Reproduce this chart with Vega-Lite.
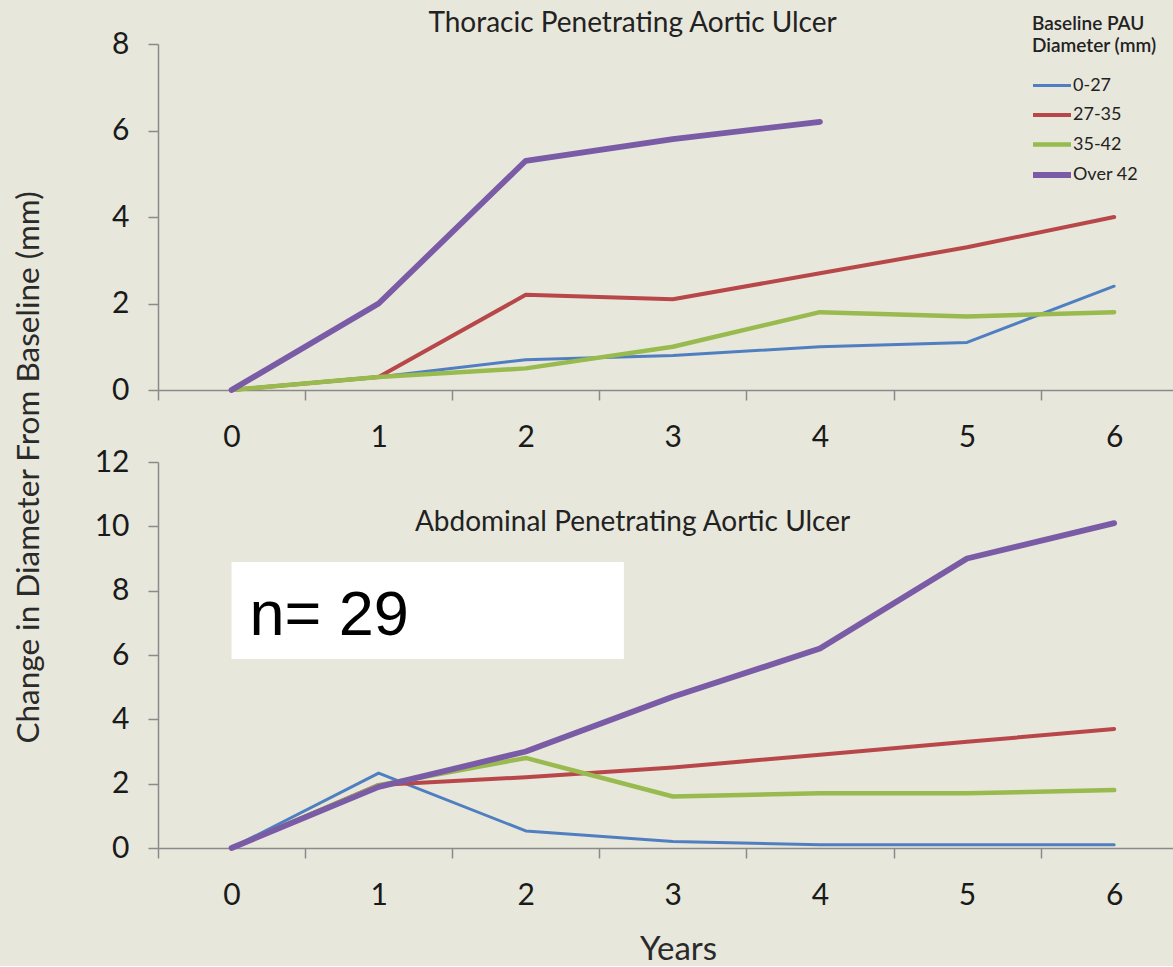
{
  "$schema": "https://vega.github.io/schema/vega-lite/v6.json",
  "background": "#E8E7DB",
  "padding": {"left": 13, "top": 10, "right": 0, "bottom": 0},
  "autosize": {"type": "pad"},
  "config": {
    "view": {"stroke": null},
    "font": "Lato",
    "axis": {"grid": false, "domainColor": "#8a8a8a", "tickColor": "#8a8a8a", "domainWidth": 1.5, "tickWidth": 1.5, "labelFont": "Lato", "labelColor": "#1a1a1a", "titleFont": "Lato", "titleColor": "#2a2a2a", "titleFontWeight": "normal"}
  },
  "datasets": {
    "lines": [
      {"panel": "Thoracic", "year": 0, "group": "0-27", "value": 0},
      {"panel": "Thoracic", "year": 1, "group": "0-27", "value": 0.3},
      {"panel": "Thoracic", "year": 2, "group": "0-27", "value": 0.7},
      {"panel": "Thoracic", "year": 3, "group": "0-27", "value": 0.8},
      {"panel": "Thoracic", "year": 4, "group": "0-27", "value": 1.0},
      {"panel": "Thoracic", "year": 5, "group": "0-27", "value": 1.1},
      {"panel": "Thoracic", "year": 6, "group": "0-27", "value": 2.4},
      {"panel": "Thoracic", "year": 0, "group": "27-35", "value": 0},
      {"panel": "Thoracic", "year": 1, "group": "27-35", "value": 0.3},
      {"panel": "Thoracic", "year": 2, "group": "27-35", "value": 2.2},
      {"panel": "Thoracic", "year": 3, "group": "27-35", "value": 2.1},
      {"panel": "Thoracic", "year": 4, "group": "27-35", "value": 2.7},
      {"panel": "Thoracic", "year": 5, "group": "27-35", "value": 3.3},
      {"panel": "Thoracic", "year": 6, "group": "27-35", "value": 4.0},
      {"panel": "Thoracic", "year": 0, "group": "35-42", "value": 0},
      {"panel": "Thoracic", "year": 1, "group": "35-42", "value": 0.3},
      {"panel": "Thoracic", "year": 2, "group": "35-42", "value": 0.5},
      {"panel": "Thoracic", "year": 3, "group": "35-42", "value": 1.0},
      {"panel": "Thoracic", "year": 4, "group": "35-42", "value": 1.8},
      {"panel": "Thoracic", "year": 5, "group": "35-42", "value": 1.7},
      {"panel": "Thoracic", "year": 6, "group": "35-42", "value": 1.8},
      {"panel": "Thoracic", "year": 0, "group": "Over 42", "value": 0},
      {"panel": "Thoracic", "year": 1, "group": "Over 42", "value": 2.0},
      {"panel": "Thoracic", "year": 2, "group": "Over 42", "value": 5.3},
      {"panel": "Thoracic", "year": 3, "group": "Over 42", "value": 5.8},
      {"panel": "Thoracic", "year": 4, "group": "Over 42", "value": 6.2},
      {"panel": "Abdominal", "year": 0, "group": "0-27", "value": 0},
      {"panel": "Abdominal", "year": 1, "group": "0-27", "value": 2.33},
      {"panel": "Abdominal", "year": 2, "group": "0-27", "value": 0.53},
      {"panel": "Abdominal", "year": 3, "group": "0-27", "value": 0.2},
      {"panel": "Abdominal", "year": 4, "group": "0-27", "value": 0.1},
      {"panel": "Abdominal", "year": 5, "group": "0-27", "value": 0.1},
      {"panel": "Abdominal", "year": 6, "group": "0-27", "value": 0.1},
      {"panel": "Abdominal", "year": 0, "group": "27-35", "value": 0},
      {"panel": "Abdominal", "year": 1, "group": "27-35", "value": 1.96},
      {"panel": "Abdominal", "year": 2, "group": "27-35", "value": 2.2},
      {"panel": "Abdominal", "year": 3, "group": "27-35", "value": 2.5},
      {"panel": "Abdominal", "year": 4, "group": "27-35", "value": 2.9},
      {"panel": "Abdominal", "year": 5, "group": "27-35", "value": 3.3},
      {"panel": "Abdominal", "year": 6, "group": "27-35", "value": 3.7},
      {"panel": "Abdominal", "year": 0, "group": "35-42", "value": 0},
      {"panel": "Abdominal", "year": 1, "group": "35-42", "value": 1.95},
      {"panel": "Abdominal", "year": 2, "group": "35-42", "value": 2.8},
      {"panel": "Abdominal", "year": 3, "group": "35-42", "value": 1.6},
      {"panel": "Abdominal", "year": 4, "group": "35-42", "value": 1.7},
      {"panel": "Abdominal", "year": 5, "group": "35-42", "value": 1.7},
      {"panel": "Abdominal", "year": 6, "group": "35-42", "value": 1.8},
      {"panel": "Abdominal", "year": 0, "group": "Over 42", "value": 0},
      {"panel": "Abdominal", "year": 1, "group": "Over 42", "value": 1.9},
      {"panel": "Abdominal", "year": 2, "group": "Over 42", "value": 3.0},
      {"panel": "Abdominal", "year": 3, "group": "Over 42", "value": 4.7},
      {"panel": "Abdominal", "year": 4, "group": "Over 42", "value": 6.2},
      {"panel": "Abdominal", "year": 5, "group": "Over 42", "value": 9.0},
      {"panel": "Abdominal", "year": 6, "group": "Over 42", "value": 10.1}
    ]
  },
  "bounds": "flush",
  "spacing": 72,
  "resolve": {"legend": {"color": "independent", "strokeWidth": "independent"}, "scale": {"y": "independent"}},
  "vconcat": [
    {
      "width": 1015,
      "height": 346,
      "layer": [
        {
          "data": {"name": "lines"},
          "transform": [{"filter": "datum.panel == 'Thoracic'"}],
          "mark": {"type": "line", "strokeCap": "round", "strokeJoin": "round"},
          "encoding": {
            "x": {"field": "year", "type": "quantitative",
              "scale": {"domain": [-0.5, 6.4], "nice": false, "zero": false},
              "axis": {"title": null, "values": [-0.5, 0.5, 1.5, 2.5, 3.5, 4.5, 5.5], "labelExpr": "format(datum.value + 0.5, 'd')", "labelOffset": 73.5, "tickSize": 10, "labelPadding": 22, "labelFontSize": 30, "labelOverlap": false, "labelBound": false, "labelFlush": false}},
            "y": {"field": "value", "type": "quantitative",
              "scale": {"domain": [0, 8], "nice": false},
              "axis": {"values": [0, 2, 4, 6, 8], "tickSize": 10, "labelPadding": 19, "labelFontSize": 30,
                "title": "Change in Diameter From Baseline (mm)", "titleFontSize": 31.5, "titleX": -129, "titleY": 423, "titleAngle": 270, "titleAlign": "center", "titleBaseline": "middle"}},
            "color": {"field": "group", "type": "nominal",
              "scale": {"domain": ["0-27", "27-35", "35-42", "Over 42"], "range": ["#4F7FC0", "#B8474A", "#98BA4E", "#7A5BA6"]},
              "legend": {"title": ["Baseline PAU", "Diameter (mm)"], "orient": "none", "legendX": 874, "legendY": -29, "padding": 0,
                "titleFontSize": 19, "titleFontWeight": 600, "titleColor": "#222", "titleLineHeight": 22, "titlePadding": 18,
                "labelFontSize": 18, "labelColor": "#222", "symbolType": "M-1.2,0H2.6", "symbolSize": 400, "labelOffset": 15, "rowPadding": 8}},
            "strokeWidth": {"field": "group", "type": "ordinal",
              "scale": {"type": "ordinal", "domain": ["0-27", "27-35", "35-42", "Over 42"], "range": [3, 4, 4.5, 5.8]},
              "legend": {"title": ["Baseline PAU", "Diameter (mm)"]}}
          }
        },
        {
          "data": {"values": [{}]},
          "mark": {"type": "text", "font": "Lato", "fontSize": 28, "color": "#222", "align": "center", "baseline": "alphabetic"},
          "encoding": {"x": {"datum": 2.726, "type": "quantitative"}, "y": {"datum": 8.277, "type": "quantitative"}, "text": {"value": "Thoracic Penetrating Aortic Ulcer"}}
        }
      ]
    },
    {
      "width": 1015,
      "height": 386,
      "layer": [
        {
          "data": {"name": "lines"},
          "transform": [{"filter": "datum.panel == 'Abdominal'"}],
          "mark": {"type": "line", "strokeCap": "round", "strokeJoin": "round"},
          "encoding": {
            "x": {"field": "year", "type": "quantitative",
              "scale": {"domain": [-0.5, 6.4], "nice": false, "zero": false},
              "axis": {"title": "Years", "titleFontSize": 33, "titleX": 520, "titleY": 111, "titleBaseline": "alphabetic", "values": [-0.5, 0.5, 1.5, 2.5, 3.5, 4.5, 5.5], "labelExpr": "format(datum.value + 0.5, 'd')", "labelOffset": 73.5, "tickSize": 10, "labelPadding": 22, "labelFontSize": 30, "labelOverlap": false, "labelBound": false, "labelFlush": false}},
            "y": {"field": "value", "type": "quantitative",
              "scale": {"domain": [0, 12], "nice": false},
              "axis": {"values": [0, 2, 4, 6, 8, 10, 12], "tickSize": 10, "labelPadding": 19, "labelFontSize": 30, "title": null}},
            "color": {"field": "group", "type": "nominal",
              "scale": {"domain": ["0-27", "27-35", "35-42", "Over 42"], "range": ["#4F7FC0", "#B8474A", "#98BA4E", "#7A5BA6"]},
              "legend": null},
            "strokeWidth": {"field": "group", "type": "ordinal",
              "scale": {"type": "ordinal", "domain": ["0-27", "27-35", "35-42", "Over 42"], "range": [3, 4, 4.5, 5.8]},
              "legend": null}
          }
        },
        {
          "data": {"values": [{}]},
          "mark": {"type": "rect", "fill": "white"},
          "encoding": {"x": {"datum": 0, "type": "quantitative"}, "x2": {"datum": 2.667}, "y": {"datum": 8.89, "type": "quantitative"}, "y2": {"datum": 5.875}}
        },
        {
          "data": {"values": [{}]},
          "mark": {"type": "text", "font": "Liberation Sans", "fontSize": 63, "color": "#000", "align": "left", "baseline": "alphabetic"},
          "encoding": {"x": {"datum": 0.122, "type": "quantitative"}, "y": {"datum": 6.62, "type": "quantitative"}, "text": {"value": "n= 29"}}
        },
        {
          "data": {"values": [{}]},
          "mark": {"type": "text", "font": "Lato", "fontSize": 28, "color": "#222", "align": "center", "baseline": "alphabetic"},
          "encoding": {"x": {"datum": 2.726, "type": "quantitative"}, "y": {"datum": 9.85, "type": "quantitative"}, "text": {"value": "Abdominal Penetrating Aortic Ulcer"}}
        }
      ]
    }
  ]
}
